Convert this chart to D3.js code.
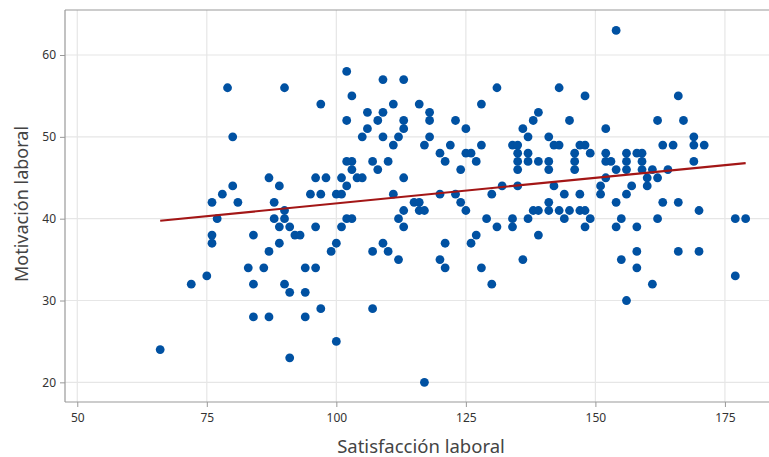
<!DOCTYPE html>
<html><head><meta charset="utf-8">
<script src="https://cdn.jsdelivr.net/npm/d3@7/dist/d3.min.js"></script>
<style>body{margin:0;background:#fff;} text{font-family:"Noto Sans","Open Sans",sans-serif;}</style>
</head><body><svg id="c" width="769" height="457"></svg>
<script>
const satisfaccion = [66,72,75,76,76,76,77,78,80,81,79,80,83,84,84,84,86,87,87,89,88,90,88,90,89,91,92,93,90,97,102,103,102,89,87,90,91,94,94,97,91,100,94,96,99,100,95,97,100,101,96,98,101,102,96,101,102,103,102,103,103,104,105,105,106,106,108,109,109,113,111,113,113,109,112,111,107,108,110,113,111,107,109,110,112,107,117,112,113,113,115,116,116,117,116,118,118,118,117,120,121,122,123,125,125,126,127,124,128,131,128,134,120,123,130,132,124,125,120,121,121,126,127,128,130,129,131,134,134,
154,143,148,139,138,145,136,152,137,141,135,142,143,147,148,135,137,146,149,152,156,158,159,135,137,139,141,146,152,153,156,159,135,141,146,154,156,159,161,164,152,160,162,135,142,151,157,160,144,147,151,156,141,154,163,166,138,139,141,143,145,147,148,170,137,144,149,155,162,177,179,148,154,158,139,158,166,170,136,155,158,161,156,177,162,166,167,169,163,165,169,171,169];
const motivacion = [24,32,33,42,38,37,40,43,44,42,56,50,34,38,32,28,34,28,45,44,42,41,40,40,39,39,38,38,56,54,58,55,52,37,36,32,31,31,28,29,23,25,34,34,36,37,43,43,43,43,45,45,45,44,39,39,40,40,47,47,46,45,45,50,51,53,52,53,57,57,54,52,51,50,50,49,47,46,47,45,43,36,37,36,35,29,20,40,41,39,42,42,41,41,54,53,52,50,49,48,47,49,52,51,48,48,47,46,54,56,49,49,43,43,43,44,42,41,35,34,37,37,38,34,32,40,39,40,39,
63,56,55,53,52,52,51,51,50,50,49,49,49,49,49,48,48,48,48,48,48,48,48,47,47,47,47,47,47,47,47,47,46,46,46,46,46,46,46,46,45,45,45,44,44,44,44,44,43,43,43,43,42,42,42,42,41,41,41,41,41,41,41,41,40,40,40,40,40,40,40,39,39,39,38,36,36,36,35,35,34,32,30,33,52,55,52,50,49,49,49,49,47];
const ajusteX = [66, 179];
const ajusteY = [39.75, 46.8];
const xTicks = [50, 75, 100, 125, 150, 175];
const yTicks = [20, 30, 40, 50, 60];

const svg = d3.select("#c");
const L = 65, R = 770, T = 10, B = 402;
const x = d3.scaleLinear().domain([47.63, 183.7]).range([L, R]);
const y = d3.scaleLinear().domain([17.6, 65.5]).range([B, T]);

const g = svg.append("g");
g.selectAll(".gx").data(xTicks).join("line")
  .attr("x1", d => x(d)).attr("x2", d => x(d)).attr("y1", T).attr("y2", B)
  .attr("stroke", "#e6e6e6").attr("stroke-width", 1.2);
g.selectAll(".gy").data(yTicks).join("line")
  .attr("x1", L).attr("x2", R).attr("y1", d => y(d)).attr("y2", d => y(d))
  .attr("stroke", "#e6e6e6").attr("stroke-width", 1.2);
g.append("line").attr("x1", L).attr("x2", R).attr("y1", T).attr("y2", T).attr("stroke", "#999").attr("stroke-width", 1.2);

const xAxis = d3.axisBottom(x).tickValues(xTicks).tickSize(5).tickPadding(6);
const yAxis = d3.axisLeft(y).tickValues(yTicks).tickSize(5).tickPadding(4);
const gx = svg.append("g").attr("transform", `translate(0,${B})`).call(xAxis);
const gy = svg.append("g").attr("transform", `translate(${L},0)`).call(yAxis);
[gx, gy].forEach(a => {
  a.select(".domain").attr("stroke", "#999").attr("stroke-width", 1.2);
  a.selectAll(".tick line").attr("stroke", "#999");
  a.selectAll(".tick text").attr("fill", "#333").style("font-size", "12px").style("font-family", "'Noto Sans',sans-serif");
});
gy.select(".domain").attr("d", `M0,${B}V${T}`);
gx.select(".domain").attr("d", `M${L},0H${R}`);

const pts = satisfaccion.map((s, i) => ({s, m: motivacion[i]}));
svg.append("g").selectAll("circle").data(pts).join("circle")
  .attr("cx", d => x(d.s)).attr("cy", d => y(d.m)).attr("r", 4.4)
  .attr("fill", "#0051a2");

const fit = ajusteX.map((v, i) => [v, ajusteY[i]]);
svg.append("path").datum(fit)
  .attr("d", d3.line().x(d => x(d[0])).y(d => y(d[1])))
  .attr("stroke", "#a31616").attr("stroke-width", 2.2).attr("fill", "none");

svg.append("text").attr("x", 421).attr("y", 453).attr("text-anchor", "middle")
  .attr("fill", "#444").style("font-size", "18.5px").text("Satisfacción laboral");
svg.append("text").attr("transform", "translate(28,204) rotate(-90)").attr("text-anchor", "middle")
  .attr("fill", "#444").style("font-size", "18px").text("Motivación laboral");
</script></body></html>
